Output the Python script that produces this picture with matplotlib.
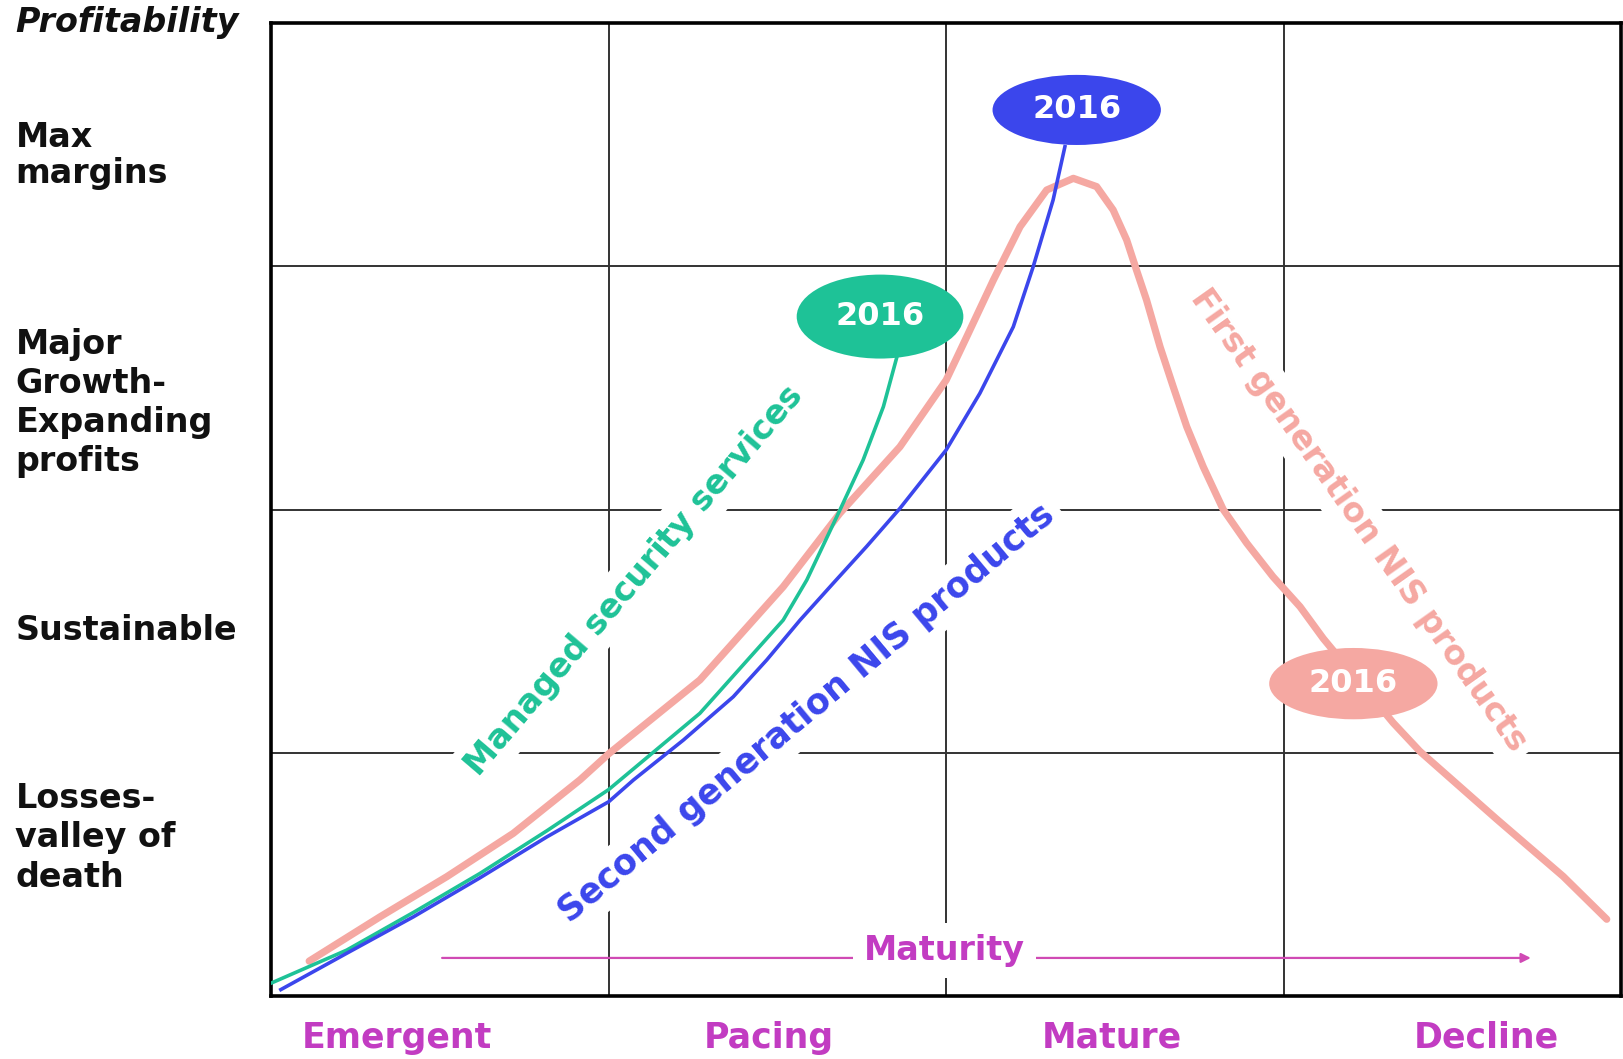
import matplotlib
matplotlib.use("Agg")

import matplotlib.pyplot as plt
from matplotlib.patches import Ellipse

# stage labels along the x axis and profitability levels on the left
stages = ["Emergent", "Pacing", "Mature", "Decline"]
stage_x = [0.372, 1.473, 2.491, 3.60]
levels = ["Profitability", "Max\nmargins", "Major\nGrowth-\nExpanding\nprofits",
          "Sustainable", "Losses-\nvalley of\ndeath"]
level_y_px = [22.8, 155.4, 403.0, 630.7, 837.9]
level_spacing = [1.0, 1.1, 1.24, 1.0, 1.24]

# curves (x: stage units 0-4, y: profitability units 0-4)
first_x = [0.112, 0.322, 0.520, 0.717, 0.915, 1.0, 1.270, 1.517, 1.685, 1.863,
           2.0, 2.061, 2.14, 2.219, 2.298, 2.377, 2.446, 2.495, 2.535, 2.564,
           2.594, 2.634, 2.673, 2.713, 2.762, 2.821, 2.891, 2.969, 3.049, 3.118,
           3.325, 3.404, 3.632, 3.829, 3.958]
first_y = [0.145, 0.327, 0.492, 0.670, 0.89, 0.997, 1.300, 1.683, 1.985, 2.258,
           2.532, 2.71, 2.943, 3.162, 3.313, 3.361, 3.327, 3.231, 3.108, 2.985,
           2.861, 2.669, 2.505, 2.341, 2.176, 2.001, 1.862, 1.724, 1.601, 1.47,
           1.124, 1.007, 0.728, 0.493, 0.317]

second_x = [0.028, 0.223, 0.421, 0.618, 0.816, 1.0, 1.073, 1.221, 1.369, 1.468,
            1.567, 1.665, 1.764, 1.863, 2.0, 2.1, 2.199, 2.258, 2.317, 2.352]
second_y = [0.028, 0.177, 0.327, 0.487, 0.655, 0.80, 0.889, 1.053, 1.231, 1.382,
            1.546, 1.697, 1.848, 2.005, 2.245, 2.478, 2.751, 2.998, 3.272, 3.491]

managed_x = [0.0, 0.223, 0.421, 0.618, 0.816, 1.0, 1.270, 1.517, 1.587, 1.685,
             1.754, 1.814, 1.853]
managed_y = [0.055, 0.19, 0.345, 0.505, 0.68, 0.85, 1.163, 1.546, 1.711, 1.998,
             2.204, 2.423, 2.622]

# "2016" markers: centre x, centre y, width, height
badge_first = (3.207, 1.285, 0.499, 0.293)
badge_second = (2.387, 3.642, 0.499, 0.288)
badge_managed = (1.804, 2.793, 0.494, 0.345)

PINK = "#F5A8A2"
BLUE = "#3B46EC"
GREEN = "#1EC297"
MAGENTA = "#C23CC2"

W, H = 1624, 1059
fig = plt.figure(figsize=(W / 100, H / 100), dpi=100)
ax = fig.add_axes([271.4 / W, 1 - 996.4 / H, 1349.5 / W, 973.6 / H])
ax.set_xlim(0, 4)
ax.set_ylim(0, 4)
ax.set_xticks([])
ax.set_yticks([])
for s in ax.spines.values():
    s.set_linewidth(2.6)
    s.set_color("black")

for v in [1, 2, 3]:
    ax.axvline(v, color="#333333", lw=1.4, zorder=1)
    ax.axhline(v, color="#333333", lw=1.4, zorder=1)

bold = dict(family="DejaVu Sans", weight="bold")

# curve labels with white boxes (they cut the grid lines)
box = dict(facecolor="white", edgecolor="none", pad=6)
ax.text(1.075, 1.71, "Managed security services", color=GREEN, fontsize=24,
        rotation=49.5, rotation_mode="anchor", ha="center", va="center",
        bbox=box, zorder=2, **bold)
ax.text(1.587, 1.162, "Second generation NIS products", color=BLUE, fontsize=25,
        rotation=39.8, rotation_mode="anchor", ha="center", va="center",
        bbox=box, zorder=2, **bold)
ax.text(3.223, 1.957, "First generation NIS products", color=PINK, fontsize=24,
        rotation=-54.7, rotation_mode="anchor", ha="center", va="center",
        bbox=box, zorder=2, **bold)

ax.plot(first_x, first_y, color=PINK, lw=5.2, solid_capstyle="round",
        solid_joinstyle="round", zorder=3)
ax.plot(managed_x, managed_y, color=GREEN, lw=2.6, solid_joinstyle="round", zorder=4)
ax.plot(second_x, second_y, color=BLUE, lw=2.6, solid_joinstyle="round", zorder=5)

for (cx, cy, w, h), col in [(badge_first, PINK), (badge_second, BLUE),
                            (badge_managed, GREEN)]:
    ax.add_patch(Ellipse((cx, cy), w, h, facecolor=col, edgecolor="none", zorder=6))
    ax.text(cx, cy, "2016", color="white", fontsize=23, ha="center",
            va="center", zorder=7, **bold)

# maturity arrow
ax.annotate("", xy=(3.733, 0.158), xytext=(0.506, 0.158),
            arrowprops=dict(arrowstyle="-|>", color="#D04AB4", lw=1.6,
                            mutation_scale=14, shrinkA=0, shrinkB=0), zorder=2)
ax.text(1.995, 0.187, "Maturity", color=MAGENTA, fontsize=24, ha="center",
        va="center", bbox=dict(facecolor="white", edgecolor="none", pad=8),
        zorder=3, **bold)

for name, x in zip(stages, stage_x):
    ax.text(x, -0.17, name, color=MAGENTA, fontsize=25, ha="center",
            va="center", clip_on=False, **bold)

for i, (name, ypx, sp) in enumerate(zip(levels, level_y_px, level_spacing)):
    style = "italic" if i == 0 else "normal"
    fig.text(15.5 / W, 1 - ypx / H, name, fontsize=24, ha="left", va="center",
             linespacing=sp, style=style, color="#111111", **bold)

fig.savefig("out.png", dpi=100)
